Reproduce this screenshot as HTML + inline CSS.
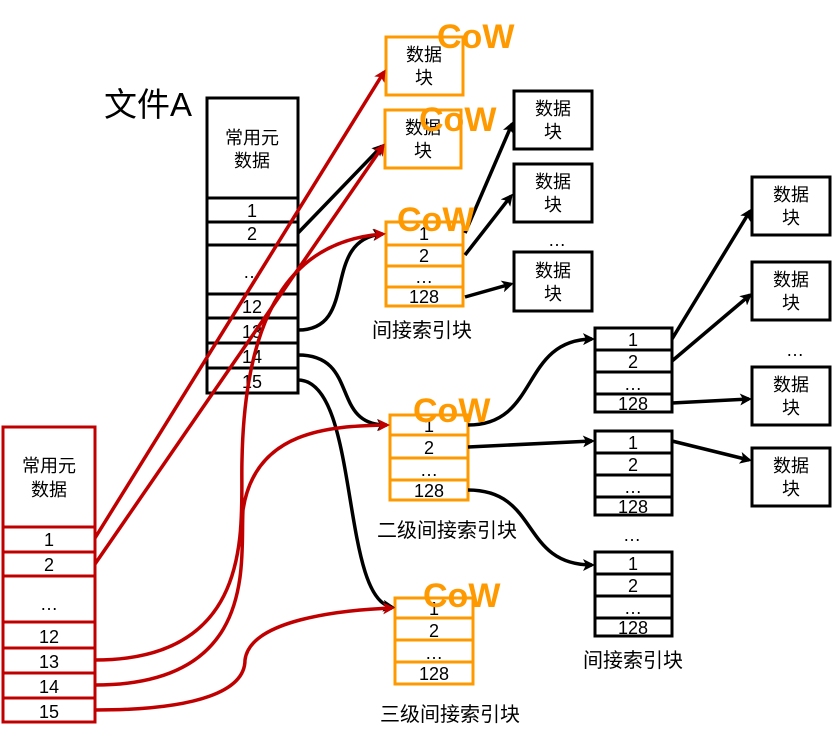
<!DOCTYPE html>
<html><head><meta charset="utf-8"><style>
body{margin:0;background:#fff}
svg text{font-family:"Liberation Sans","Noto Sans CJK SC",sans-serif}
</style></head><body>
<svg width="832" height="740" viewBox="0 0 832 740" xmlns="http://www.w3.org/2000/svg">
<defs>
<marker id="ab" markerWidth="12" markerHeight="12" refX="9" refY="6" orient="auto" markerUnits="userSpaceOnUse" viewBox="0 0 12 12"><path d="M0,0 L12,6 L0,12 L3,6 z" fill="#000"/></marker>
<marker id="ar" markerWidth="12" markerHeight="12" refX="9" refY="6" orient="auto" markerUnits="userSpaceOnUse" viewBox="0 0 12 12"><path d="M0,0 L12,6 L0,12 L3,6 z" fill="#c00000"/></marker>
</defs>
<g font-size="18" text-anchor="middle" fill="#000">
<!-- file A -->
<text x="148" y="116" font-size="33" text-anchor="middle">文件A</text>
<g fill="none" stroke="#000" stroke-width="3">
<rect x="207" y="98" width="91" height="295"/>
<path d="M207 198H298M207 222H298M207 245H298M207 294H298M207 318H298M207 343H298M207 368H298"/>
</g>
<text x="252" y="144">常用元</text><text x="252" y="167">数据</text>
<text x="252" y="217">1</text><text x="252" y="240">2</text><text x="252" y="278">…</text>
<text x="252" y="313">12</text><text x="252" y="338">13</text><text x="252" y="363">14</text><text x="252" y="388">15</text>
<!-- red table -->
<g fill="none" stroke="#c00000" stroke-width="3">
<rect x="3" y="427" width="92" height="295"/>
<path d="M3 527H95M3 552H95M3 576H95M3 622H95M3 648H95M3 673H95M3 698H95"/>
</g>
<text x="49" y="472">常用元</text><text x="49" y="496">数据</text>
<text x="49" y="546">1</text><text x="49" y="571">2</text><text x="49" y="610">…</text>
<text x="49" y="643">12</text><text x="49" y="668">13</text><text x="49" y="693">14</text><text x="49" y="718">15</text>
<!-- orange blocks -->
<g fill="none" stroke="#ff9900" stroke-width="3">
<rect x="386" y="37" width="77" height="58"/>
<rect x="385" y="110" width="76" height="58"/>
<rect x="386" y="222" width="77" height="84"/>
<path d="M386 245H463M386 266H463M386 287H463"/>
<rect x="390" y="415" width="78" height="85"/>
<path d="M390 435H468M390 458H468M390 480H468"/>
<rect x="395" y="598" width="78" height="86"/>
<path d="M395 618H473M395 640H473M395 662H473"/>
</g>
<text x="424" y="61">数据</text><text x="424" y="84">块</text>
<text x="423" y="134">数据</text><text x="423" y="157">块</text>
<text x="424" y="240">1</text><text x="424" y="262">2</text><text x="424" y="283">…</text><text x="424" y="303">128</text>
<text x="422" y="337" font-size="20">间接索引块</text>
<text x="429" y="432">1</text><text x="429" y="454">2</text><text x="429" y="476">…</text><text x="429" y="497">128</text>
<text x="447" y="537" font-size="20">二级间接索引块</text>
<text x="434" y="615">1</text><text x="434" y="637">2</text><text x="434" y="659">…</text><text x="434" y="680">128</text>
<text x="450" y="721" font-size="20">三级间接索引块</text>
<!-- black data blocks -->
<g fill="none" stroke="#000" stroke-width="3">
<rect x="514" y="91" width="78" height="58"/>
<rect x="514" y="164" width="78" height="58"/>
<rect x="514" y="252" width="78" height="59"/>
<rect x="595" y="328" width="77" height="84"/><path d="M595 350H672M595 372H672M595 394H672"/>
<rect x="595" y="431" width="77" height="84"/><path d="M595 453H672M595 475H672M595 497H672"/>
<rect x="595" y="552" width="77" height="84"/><path d="M595 574H672M595 596H672M595 618H672"/>
<rect x="752" y="177" width="78" height="58"/>
<rect x="752" y="262" width="78" height="58"/>
<rect x="752" y="367" width="78" height="58"/>
<rect x="752" y="448" width="78" height="58"/>
</g>
<text x="553" y="115">数据</text><text x="553" y="138">块</text>
<text x="553" y="188">数据</text><text x="553" y="211">块</text>
<text x="557" y="246">…</text>
<text x="553" y="277">数据</text><text x="553" y="300">块</text>
<text x="633" y="346">1</text><text x="633" y="368">2</text><text x="633" y="390">…</text><text x="633" y="410">128</text>
<text x="633" y="449">1</text><text x="633" y="471">2</text><text x="633" y="493">…</text><text x="633" y="513">128</text>
<text x="632" y="541">…</text>
<text x="633" y="570">1</text><text x="633" y="592">2</text><text x="633" y="614">…</text><text x="633" y="634">128</text>
<text x="633" y="667" font-size="20">间接索引块</text>
<text x="791" y="201">数据</text><text x="791" y="224">块</text>
<text x="791" y="286">数据</text><text x="791" y="309">块</text>
<text x="795" y="356">…</text>
<text x="791" y="391">数据</text><text x="791" y="414">块</text>
<text x="791" y="472">数据</text><text x="791" y="495">块</text>
</g>
<!-- black arrows -->
<g fill="none" stroke="#000" stroke-width="3.5" marker-end="url(#ab)">
<path d="M298 233L382 146"/>
<path d="M298 330C360 330 320 240 382 234"/>
<path d="M298 355C360 355 330 425 386 425"/>
<path d="M298 380C360 380 340 600 392 607"/>
<path d="M465 233L512 124"/>
<path d="M465 255L511 196"/>
<path d="M465 297L511 284"/>
<path d="M468 425C540 425 520 340 592 339"/>
<path d="M468 447L592 441"/>
<path d="M468 490C540 490 520 565 592 565"/>
<path d="M672 339L750 211"/>
<path d="M672 361L750 295"/>
<path d="M672 403L749 399"/>
<path d="M672 441L749 460"/>
</g>
<!-- red arrows -->
<g fill="none" stroke="#c00000" stroke-width="3.5" marker-end="url(#ar)">
<path d="M95 538L384 72"/>
<path d="M95 564L383 146"/>
<path d="M95 660C260 660 240 520 242 460C245 300 300 240 383 234"/>
<path d="M95 685C260 685 240 560 243 510C255 430 330 426 387 425"/>
<path d="M95 710C200 710 245 690 245 660C250 620 340 610 392 608"/>
</g>
<!-- CoW -->
<g fill="#ff9900" font-size="34" font-weight="bold" font-family="Liberation Sans,sans-serif">
<text x="437" y="48">CoW</text>
<text x="419" y="131">CoW</text>
<text x="397" y="231">CoW</text>
<text x="413" y="422">CoW</text>
<text x="423" y="607">CoW</text>
</g>
</svg>
</body></html>
